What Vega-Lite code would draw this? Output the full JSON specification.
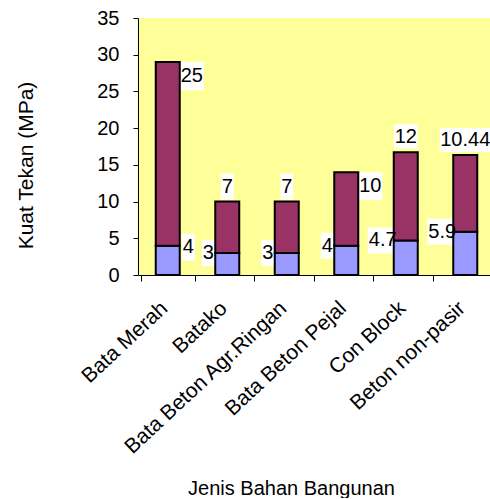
{
  "$schema": "https://vega.github.io/schema/vega-lite/v6.json",
  "width": 357,
  "height": 257,
  "padding": {"left": 15, "top": 8, "right": 0, "bottom": 0},
  "background": "white",
  "config": {
    "font": "Liberation Sans",
    "view": {"fill": "#FFFF99", "stroke": null},
    "axis": {"grid": false, "domainColor": "#000000", "tickColor": "#000000", "labelColor": "#000000", "titleColor": "#000000", "labelFontSize": 20, "titleFontSize": 20, "titleFontWeight": "normal"}
  },
  "data": {
    "values": [
      {"kategori": "Bata Merah", "seri": "Bawah", "nilai": 4},
      {"kategori": "Bata Merah", "seri": "Atas", "nilai": 25},
      {"kategori": "Batako", "seri": "Bawah", "nilai": 3},
      {"kategori": "Batako", "seri": "Atas", "nilai": 7},
      {"kategori": "Bata Beton Agr.Ringan", "seri": "Bawah", "nilai": 3},
      {"kategori": "Bata Beton Agr.Ringan", "seri": "Atas", "nilai": 7},
      {"kategori": "Bata Beton Pejal", "seri": "Bawah", "nilai": 4},
      {"kategori": "Bata Beton Pejal", "seri": "Atas", "nilai": 10},
      {"kategori": "Con Block", "seri": "Bawah", "nilai": 4.7},
      {"kategori": "Con Block", "seri": "Atas", "nilai": 12},
      {"kategori": "Beton non-pasir", "seri": "Bawah", "nilai": 5.9},
      {"kategori": "Beton non-pasir", "seri": "Atas", "nilai": 10.44}
    ]
  },
  "transform": [
    {"stack": "nilai", "groupby": ["kategori"], "sort": [{"field": "seri", "order": "descending"}], "as": ["y0", "y1"]}
  ],
  "encoding": {
    "x": {
      "field": "kategori",
      "type": "nominal",
      "sort": ["Bata Merah", "Batako", "Bata Beton Agr.Ringan", "Bata Beton Pejal", "Con Block", "Beton non-pasir"],
      "axis": {
        "title": "Jenis Bahan Bangunan",
        "labelAngle": -43,
        "labelFontSize": 21,
        "labelLimit": 0,
        "labelAlign": "right",
        "labelBaseline": "top",
        "labelOffset": -11,
        "labelPadding": 16,
        "tickBand": "extent",
        "tickSize": 6,
        "titleX": 153,
        "titleY": 219,
        "titleBaseline": "alphabetic",
        "titleAlign": "center"
      }
    },
    "y": {
      "field": "y1",
      "type": "quantitative",
      "scale": {"domain": [0, 35], "nice": false},
      "axis": {
        "title": "Kuat Tekan (MPa)",
        "titleFontSize": 21,
        "values": [0, 5, 10, 15, 20, 25, 30, 35],
        "tickSize": 5,
        "labelPadding": 14,
        "titleX": -112,
        "titleY": 147,
        "titleBaseline": "middle",
        "titleAlign": "center"
      }
    }
  },
  "layer": [
    {
      "transform": [{"filter": {"and": [{"field": "seri", "equal": "Atas"}, {"field": "kategori", "oneOf": ["Bata Merah", "Bata Beton Pejal"]}]}}],
      "mark": {"type": "bar", "color": "white", "width": 24, "xOffset": 24, "yOffset": 0, "y2Offset": 28},
      "encoding": {"y2": {"field": "y1"}}
    },
    {
      "transform": [{"filter": {"and": [{"field": "seri", "equal": "Atas"}, {"field": "kategori", "oneOf": ["Batako", "Bata Beton Agr.Ringan"]}]}}],
      "mark": {"type": "bar", "color": "white", "width": 13, "yOffset": -28, "y2Offset": -2},
      "encoding": {"y2": {"field": "y1"}}
    },
    {
      "transform": [{"filter": {"and": [{"field": "seri", "equal": "Atas"}, {"field": "kategori", "equal": "Con Block"}]}}],
      "mark": {"type": "bar", "color": "white", "width": 24, "yOffset": -28, "y2Offset": -4},
      "encoding": {"y2": {"field": "y1"}}
    },
    {
      "transform": [{"filter": {"and": [{"field": "seri", "equal": "Atas"}, {"field": "kategori", "equal": "Beton non-pasir"}]}}],
      "mark": {"type": "bar", "color": "white", "width": 51, "yOffset": -27, "y2Offset": -3},
      "encoding": {"y2": {"field": "y1"}}
    },
    {
      "transform": [{"filter": {"and": [{"field": "seri", "equal": "Bawah"}, {"field": "kategori", "equal": "Bata Merah"}]}}],
      "mark": {"type": "bar", "color": "white", "width": 13, "xOffset": 20.5, "yOffset": -12, "y2Offset": 15},
      "encoding": {"y2": {"field": "y1"}}
    },
    {
      "transform": [{"filter": {"and": [{"field": "seri", "equal": "Bawah"}, {"field": "kategori", "oneOf": ["Batako", "Bata Beton Agr.Ringan", "Bata Beton Pejal"]}]}}],
      "mark": {"type": "bar", "color": "white", "width": 13, "xOffset": -19, "yOffset": -13, "y2Offset": 13},
      "encoding": {"y2": {"field": "y1"}}
    },
    {
      "transform": [{"filter": {"and": [{"field": "seri", "equal": "Bawah"}, {"field": "kategori", "oneOf": ["Con Block", "Beton non-pasir"]}]}}],
      "mark": {"type": "bar", "color": "white", "width": 30, "xOffset": -23, "yOffset": -13, "y2Offset": 13},
      "encoding": {"y2": {"field": "y1"}}
    },
    {
      "mark": {"type": "bar", "width": 24, "stroke": "#000000", "strokeWidth": 2},
      "encoding": {
        "y2": {"field": "y0"},
        "color": {"field": "seri", "type": "nominal", "scale": {"domain": ["Bawah", "Atas"], "range": ["#9999FF", "#993366"]}, "legend": null}
      }
    },
    {
      "transform": [{"filter": {"and": [{"field": "seri", "equal": "Atas"}, {"field": "kategori", "oneOf": ["Bata Merah", "Bata Beton Pejal"]}]}}],
      "mark": {"type": "text", "fontSize": 20, "color": "#000000", "align": "center", "baseline": "middle", "dx": 24, "dy": 14},
      "encoding": {"text": {"field": "nilai", "type": "quantitative"}}
    },
    {
      "transform": [{"filter": {"and": [{"field": "seri", "equal": "Atas"}, {"field": "kategori", "oneOf": ["Batako", "Bata Beton Agr.Ringan", "Con Block", "Beton non-pasir"]}]}}],
      "mark": {"type": "text", "fontSize": 20, "color": "#000000", "align": "center", "baseline": "middle", "dy": -15},
      "encoding": {"text": {"field": "nilai", "type": "quantitative"}}
    },
    {
      "transform": [{"filter": {"and": [{"field": "seri", "equal": "Bawah"}, {"field": "kategori", "equal": "Bata Merah"}]}}],
      "mark": {"type": "text", "fontSize": 20, "color": "#000000", "align": "center", "baseline": "middle", "dx": 20.5, "dy": 1},
      "encoding": {"text": {"field": "nilai", "type": "quantitative"}}
    },
    {
      "transform": [{"filter": {"and": [{"field": "seri", "equal": "Bawah"}, {"field": "kategori", "oneOf": ["Batako", "Bata Beton Agr.Ringan", "Bata Beton Pejal"]}]}}],
      "mark": {"type": "text", "fontSize": 20, "color": "#000000", "align": "center", "baseline": "middle", "dx": -19},
      "encoding": {"text": {"field": "nilai", "type": "quantitative"}}
    },
    {
      "transform": [{"filter": {"and": [{"field": "seri", "equal": "Bawah"}, {"field": "kategori", "oneOf": ["Con Block", "Beton non-pasir"]}]}}],
      "mark": {"type": "text", "fontSize": 20, "color": "#000000", "align": "center", "baseline": "middle", "dx": -23},
      "encoding": {"text": {"field": "nilai", "type": "quantitative"}}
    }
  ]
}
